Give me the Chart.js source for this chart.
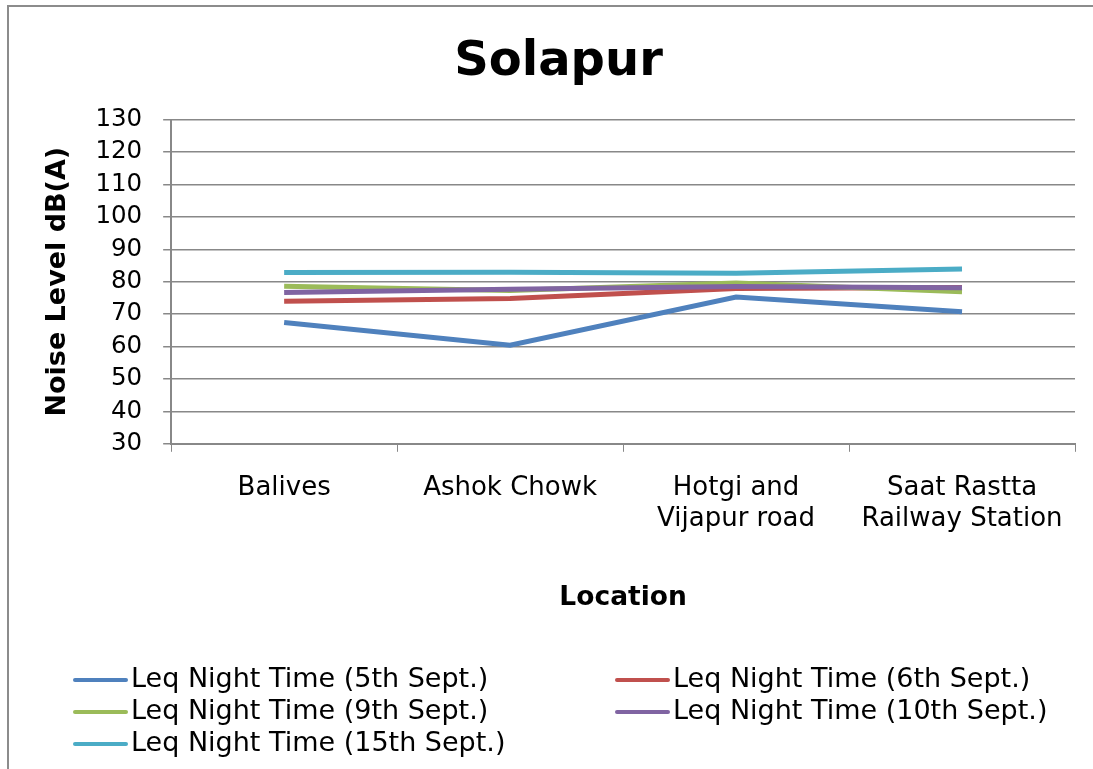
<!DOCTYPE html>
<html>
<head>
<meta charset="utf-8">
<script src="https://cdn.jsdelivr.net/npm/chart.js@4"></script>
<style>
  body { margin: 0; background: #fff; overflow: hidden; }
  .frame { position: absolute; left: 7px; top: 5px; width: 1200px; height: 900px; border: 2px solid #8c8c8c; }
  .wrap { position: absolute; left: 0; top: 0; width: 1093px; height: 769px; }
  .legend { position: absolute; left: 0; top: 0; font-family: "DejaVu Sans", Verdana, sans-serif; font-size: 27px; color: #000; }
  .legend .item { position: absolute; white-space: nowrap; height: 30px; line-height: 30px; }
  .legend .swatch { display: inline-block; width: 55px; height: 4px; vertical-align: middle; margin-right: 3px; border-radius: 2px; }
</style>
</head>
<body>
<div class="frame"></div>
<div class="wrap"><canvas id="chart1" width="1093" height="769"></canvas></div>
<div class="legend" id="legend"></div>
<script>
// datos
const locations = ['Balives', 'Ashok Chowk', ['Hotgi and', 'Vijapur road'], ['Saat Rastta', 'Railway Station']];
const seriesNames = [
  'Leq Night Time (5th Sept.)',
  'Leq Night Time (6th Sept.)',
  'Leq Night Time (9th Sept.)',
  'Leq Night Time (10th Sept.)',
  'Leq Night Time (15th Sept.)'
];
const sept5 = [67.4, 60.4, 75.3, 70.7];
const sept6 = [74.0, 74.8, 77.9, 78.2];
const sept9 = [78.6, 77.3, 79.6, 76.9];
const sept10 = [76.7, 77.7, 78.5, 78.1];
const sept15 = [82.8, 82.9, 82.6, 83.9];
const yTicks = [30, 40, 50, 60, 70, 80, 90, 100, 110, 120, 130];

const colors = ['#4F81BD', '#C0504D', '#9BBB59', '#8064A2', '#4BACC6'];
const allSeries = [sept5, sept6, sept9, sept10, sept15];

const font = 'DejaVu Sans';

const chartConfig = {
  type: 'line',
  data: {
    labels: locations,
    datasets: allSeries.map((d, i) => ({
      label: seriesNames[i],
      data: d,
      borderColor: colors[i],
      backgroundColor: colors[i],
      borderWidth: 5,
      pointRadius: 0,
      tension: 0,
      order: 4 - i
    }))
  },
  options: {
    responsive: false,
    animation: false,
    layout: { padding: { left: 42, right: 18, top: 34, bottom: 155 } },
    plugins: {
      legend: { display: false },
      tooltip: { enabled: false },
      title: {
        display: true,
        text: 'Solapur',
        color: '#000',
        font: { family: font, size: 48, weight: 'bold' },
        padding: { top: 0, bottom: 28 }
      }
    },
    scales: {
      x: {
        offset: true,
        grid: { drawOnChartArea: false, drawTicks: true, tickLength: 8, color: '#888', offset: true },
        border: { color: '#888', width: 2 },
        ticks: { color: '#000', font: { family: font, size: 26 }, padding: 21, maxRotation: 0, autoSkip: false },
        title: {
          display: true,
          text: 'Location',
          color: '#000',
          font: { family: font, size: 26.5, weight: 'bold' },
          padding: { top: 26, bottom: 0 }
        }
      },
      y: {
        min: yTicks[0],
        max: yTicks[yTicks.length - 1],
        afterBuildTicks: (axis) => { axis.ticks = yTicks.map(v => ({ value: v })); },
        grid: { color: '#888', lineWidth: 1.5, tickLength: 8 },
        border: { color: '#888', width: 2 },
        ticks: { color: '#000', font: { family: font, size: 24.5 }, padding: 21, autoSkip: false },
        title: {
          display: true,
          text: 'Noise Level dB(A)',
          color: '#000',
          font: { family: font, size: 27, weight: 'bold' },
          padding: { top: 0, bottom: 0 }
        }
      }
    }
  }
};

const chart = new Chart(document.getElementById('chart1'), chartConfig);

// leyenda en dos columnas
const legendEl = document.getElementById('legend');
const legendPos = [[73, 663], [615, 663], [73, 695], [615, 695], [73, 727]];
chart.data.datasets.forEach((ds, i) => {
  const item = document.createElement('div');
  item.className = 'item';
  item.style.left = legendPos[i][0] + 'px';
  item.style.top = legendPos[i][1] + 'px';
  const sw = document.createElement('span');
  sw.className = 'swatch';
  sw.style.background = ds.borderColor;
  item.appendChild(sw);
  item.appendChild(document.createTextNode(ds.label));
  legendEl.appendChild(item);
});
</script>
</body>
</html>
